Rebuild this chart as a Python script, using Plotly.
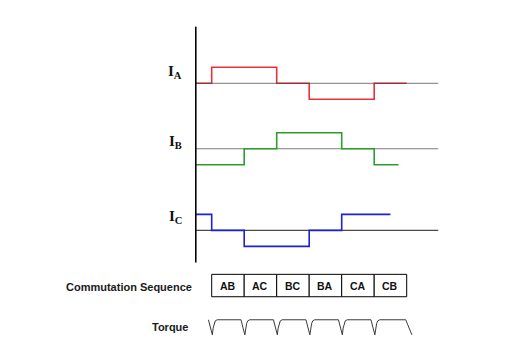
import plotly.graph_objects as go

# ---- data (time in commutation steps of 60 degrees) ----
step_starts = [-0.5, 0, 1, 2, 3, 4, 5]
ia_levels = [0, 1, 1, 0, -1, -1, 0]
ia_end = 6.0
ib_levels = [-1, -1, 0, 1, 1, 0, -1]
ib_end = 5.75
ic_levels = [1, 0, -1, -1, 0, 1, 1]
ic_end = 5.5
sequence = ["AB", "AC", "BC", "BA", "CA", "CB"]
labels = ["A", "B", "C"]

# one torque-ripple period shape: (phase offset, level)
torque_dip = [(-0.1, 1.0), (0.02, 0.0), (0.045, 0.45), (0.075, 0.75), (0.11, 0.93), (0.17, 1.0)]
torque_tail = [(5.97, 1.0), (6.16, 0.0)]

# ---- layout helpers (vertical placement of each row) ----
offsets = [0.0, -4.09, -9.19]
colors = ["#e8323a", "#2c9e2c", "#1f1fd6"]
base_colors = ["rgba(60,60,60,0.55)", "rgba(110,110,110,0.9)", "#4a4a4a"]
x_axis_left = -0.49
base_end = 6.97
box_top, box_bot = -11.94, -13.34
tq_top, tq_bot = -14.78, -15.72

# page body has an 8px margin; figure is sized/ranged to compensate
PAD = 8
W, H = 511, 357
fig_w, fig_h = W - PAD, H - PAD

fig = go.Figure()

series = [(ia_levels, ia_end), (ib_levels, ib_end), (ic_levels, ic_end)]
for i, (lv, end) in enumerate(series):
    off = offsets[i]
    xs = step_starts + [end]
    ys = [v + off for v in lv] + [lv[-1] + off]
    step = go.Scatter(x=xs, y=ys, mode="lines", line_shape="hv",
                      line=dict(color=colors[i], width=1.6), hoverinfo="skip")
    base = go.Scatter(x=[x_axis_left, base_end], y=[off, off], mode="lines",
                      line=dict(color=base_colors[i], width=1.2), hoverinfo="skip")
    if i == 0:
        fig.add_trace(step)
        fig.add_trace(base)
    else:
        fig.add_trace(base)
        fig.add_trace(step)

# vertical axis line
fig.add_trace(go.Scatter(x=[x_axis_left, x_axis_left], y=[3.54, -11.2], mode="lines",
                         line=dict(color="black", width=1.6), hoverinfo="skip"))

# torque waveform
tx, ty = [], []
for k in range(len(sequence)):
    for ph, lvl in torque_dip:
        tx.append(k + ph)
        ty.append(tq_bot + lvl * (tq_top - tq_bot))
for ph, lvl in torque_tail:
    tx.append(ph)
    ty.append(tq_bot + lvl * (tq_top - tq_bot))
fig.add_trace(go.Scatter(x=tx, y=ty, mode="lines", line=dict(color="#3a3a3a", width=1),
                         hoverinfo="skip"))

# commutation sequence boxes
for k, s in enumerate(sequence):
    fig.add_shape(type="rect", x0=k, x1=k + 1, y0=box_bot, y1=box_top,
                  line=dict(color="black", width=1), fillcolor="white")
    fig.add_annotation(x=k + 0.5, y=(box_top + box_bot) / 2, text="<b>%s</b>" % s,
                       showarrow=False, font=dict(family="Liberation Sans", size=10.5, color="#111"))

# row labels
label_y = [0.72, -3.66, -8.36]
for i, lab in enumerate(labels):
    fig.add_annotation(x=-0.86, y=label_y[i], xanchor="right", yanchor="middle",
                       text="<b>I<sub>%s</sub></b>" % lab, showarrow=False,
                       font=dict(family="Liberation Serif", size=15, color="#111"))

fig.add_annotation(x=-0.55, y=(box_top + box_bot) / 2 - 0.1, xanchor="right",
                   text="<b>Commutation Sequence</b>", showarrow=False,
                   font=dict(family="Liberation Sans", size=11, color="#1a1a1a"))
fig.add_annotation(x=-0.67, y=(tq_top + tq_bot) / 2, xanchor="right",
                   text="<b>Torque</b>", showarrow=False,
                   font=dict(family="Liberation Sans", size=11, color="#1a1a1a"))

x0_px, unit_x = 211.7, 32.5
y0_px, unit_y = 83.3, 16.0
fig.update_layout(width=fig_w, height=fig_h, margin=dict(l=0, r=0, t=0, b=0),
                  paper_bgcolor="white", plot_bgcolor="white", showlegend=False,
                  xaxis=dict(range=[(PAD - x0_px) / unit_x, (W - x0_px) / unit_x],
                             visible=False, fixedrange=True),
                  yaxis=dict(range=[(y0_px - H) / unit_y, (y0_px - PAD) / unit_y],
                             visible=False, fixedrange=True))

fig.write_html("out.html")
